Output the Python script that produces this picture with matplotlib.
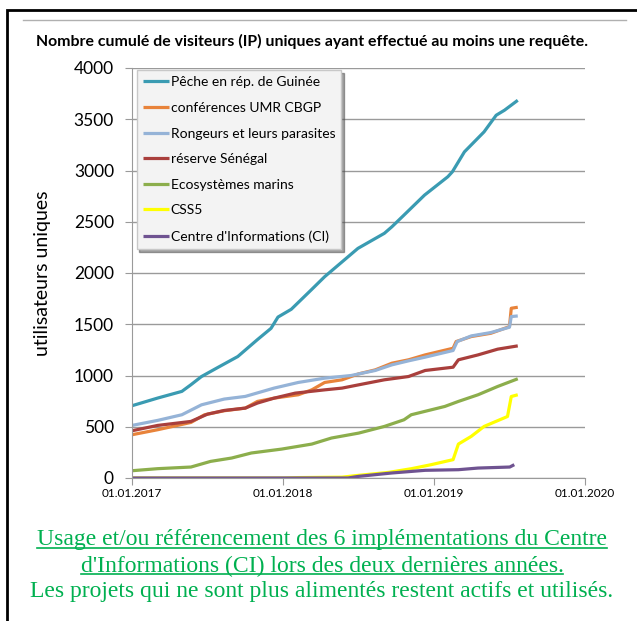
import matplotlib.pyplot as plt
import matplotlib.dates as mdates
from matplotlib.patches import Rectangle
from matplotlib.lines import Line2D
import pandas as pd
import numpy as np

# years elapsed since 01.01.2017 -> cumulative unique visitors
peche_t = [0, 0.17, 0.33, 0.39, 0.46, 0.57, 0.70, 0.83, 0.92, 0.966, 1.054, 1.186,
           1.275, 1.495, 1.67, 1.72, 1.80, 1.936, 2.09, 2.12, 2.20, 2.33, 2.41, 2.465, 2.553]
peche_v = [705, 780, 845, 910, 990, 1080, 1185, 1350, 1460, 1570, 1646, 1835,
           1964, 2240, 2387, 2451, 2565, 2760, 2939, 2987, 3182, 3377, 3539, 3588, 3685]

conf_t = [0, 0.17, 0.39, 0.48, 0.61, 0.75, 0.83, 0.94, 1.10, 1.19, 1.275, 1.39, 1.50,
          1.61, 1.72, 1.83, 1.94, 2.125, 2.145, 2.245, 2.375, 2.498, 2.51, 2.553]
conf_v = [422, 471, 542, 617, 656, 682, 747, 779, 812, 860, 932, 958, 1016,
          1055, 1120, 1153, 1201, 1266, 1331, 1380, 1412, 1477, 1656, 1666]

rong_t = [0, 0.17, 0.33, 0.46, 0.61, 0.75, 0.94, 1.10, 1.275, 1.45, 1.61, 1.72,
          1.83, 1.94, 2.125, 2.152, 2.245, 2.375, 2.498, 2.51, 2.553]
rong_v = [513, 562, 617, 714, 770, 796, 877, 932, 974, 1000, 1049, 1104,
          1143, 1179, 1244, 1331, 1386, 1419, 1471, 1575, 1581]

sene_t = [0, 0.17, 0.39, 0.50, 0.61, 0.75, 0.83, 0.94, 1.08, 1.275, 1.39, 1.50,
          1.67, 1.83, 1.94, 2.125, 2.16, 2.29, 2.42, 2.553]
sene_v = [461, 513, 552, 623, 659, 682, 731, 779, 828, 860, 877, 909,
          958, 990, 1049, 1081, 1153, 1201, 1257, 1289]

eco_t = [0, 0.17, 0.39, 0.52, 0.66, 0.79, 0.99, 1.19, 1.32, 1.50, 1.67, 1.80,
         1.848, 2.07, 2.16, 2.29, 2.42, 2.553]
eco_v = [71, 91, 107, 162, 195, 244, 282, 331, 390, 438, 503, 568,
         617, 698, 747, 812, 893, 968]

css5_t = [0, 1.0, 1.10, 1.39, 1.48, 1.70, 1.85, 1.98, 2.125, 2.16, 2.245, 2.33,
          2.485, 2.51, 2.553]
css5_v = [0, 0, 4, 8, 23, 55, 91, 130, 179, 331, 406, 503, 600, 795, 812]

ci_t = [0, 1.43, 1.50, 1.72, 1.94, 2.16, 2.29, 2.50, 2.53]
ci_v = [0, 0, 16, 49, 75, 81, 97, 107, 130]

names = ["Pêche en rép. de Guinée", "conférences UMR CBGP", "Rongeurs et leurs parasites",
         "réserve Sénégal", "Ecosystèmes marins", "CSS5", "Centre d'Informations (CI)"]
colors = ['#3a9bb2', '#e8833a', '#95b3d7', '#a93f3c', '#8cae4c', '#ffff00', '#6f5391']

series = [(peche_t, peche_v), (conf_t, conf_v), (rong_t, rong_v), (sene_t, sene_v),
          (eco_t, eco_v), (css5_t, css5_v), (ci_t, ci_v)]

start = pd.Timestamp('2017-01-01')


def to_dates(t):
    return start + pd.to_timedelta(np.array(t) * 365.25, unit='D')


plt.rcParams['font.family'] = ['Lato', 'DejaVu Sans']

fig = plt.figure(figsize=(6.37, 6.21), dpi=100)
W, H = 637, 621

# outer frame and chart border line
fig.patches.append(Rectangle((7 / W, -0.1), 1.2, 1 - 10 / H + 0.1, transform=fig.transFigure,
                             fill=False, edgecolor='black', linewidth=2))
fig.lines.append(Line2D([23 / W, 626 / W], [1 - 20 / H, 1 - 20 / H], transform=fig.transFigure,
                        color='#b0b0b0', linewidth=1))

ax = fig.add_axes([132 / W, 1 - 478 / H, 453 / W, 410 / H])

for (t, v), name, c in zip(series, names, colors):
    ax.plot(to_dates(t), v, color=c, linewidth=2.3, label=name, solid_capstyle='butt')

ax.set_xlim(pd.Timestamp('2017-01-01'), pd.Timestamp('2020-01-01'))
ax.set_ylim(0, 4000)
ax.set_yticks(range(0, 4001, 500))
ax.set_xticks([pd.Timestamp(f'{y}-01-01') for y in range(2017, 2021)])
ax.xaxis.set_major_formatter(mdates.DateFormatter('%d.%m.%Y'))
ax.grid(axis='y', color='#9a9a9a', linewidth=1)
ax.set_axisbelow(True)
for s in ['top', 'right']:
    ax.spines[s].set_visible(False)
ax.spines['left'].set_color('#9a9a9a')
ax.spines['bottom'].set_color('#9a9a9a')
ax.tick_params(axis='y', length=5, color='#9a9a9a', labelsize=12.5, pad=8)
ax.tick_params(axis='x', length=5, color='#9a9a9a', labelsize=8.5, pad=2)
ax.set_ylabel('utilisateurs uniques', fontsize=14, labelpad=16)

leg = ax.legend(loc='upper left', bbox_to_anchor=(0.01, 0.995), fontsize=10,
                handlelength=1.9, handletextpad=0.1, labelspacing=0.98,
                borderaxespad=0, frameon=True, fancybox=False, shadow=True,
                borderpad=0.45)
leg.get_frame().set_facecolor('#f3f3f3')
leg.get_frame().set_edgecolor('#c8c8c8')
leg.get_frame().set_alpha(1)

fig.text(312 / W, 1 - 41 / H, 'Nombre cumulé de visiteurs (IP) uniques ayant effectué au moins une requête.',
         ha='center', va='center', fontsize=11.4, fontweight='bold')

green = '#00b050'
lines = ["Usage et/ou référencement des 6 implémentations du Centre",
         "d'Informations (CI) lors des deux dernières années.",
         "Les projets qui ne sont plus alimentés restent actifs et utilisés."]
ys = [540, 566, 592]
texts = []
for txt, y in zip(lines, ys):
    texts.append(fig.text(322 / W, 1 - y / H, txt, ha='center', va='center',
                          fontsize=17, color=green, family='Liberation Serif'))

# underline the first two lines
fig.canvas.draw()
r = fig.canvas.get_renderer()
for tx in texts[:2]:
    bb = tx.get_window_extent(renderer=r).transformed(fig.transFigure.inverted())
    yline = bb.y0 + 0.004
    fig.lines.append(Line2D([bb.x0, bb.x1], [yline, yline], transform=fig.transFigure,
                            color=green, linewidth=1.2))

fig.savefig('out.png', dpi=100)
